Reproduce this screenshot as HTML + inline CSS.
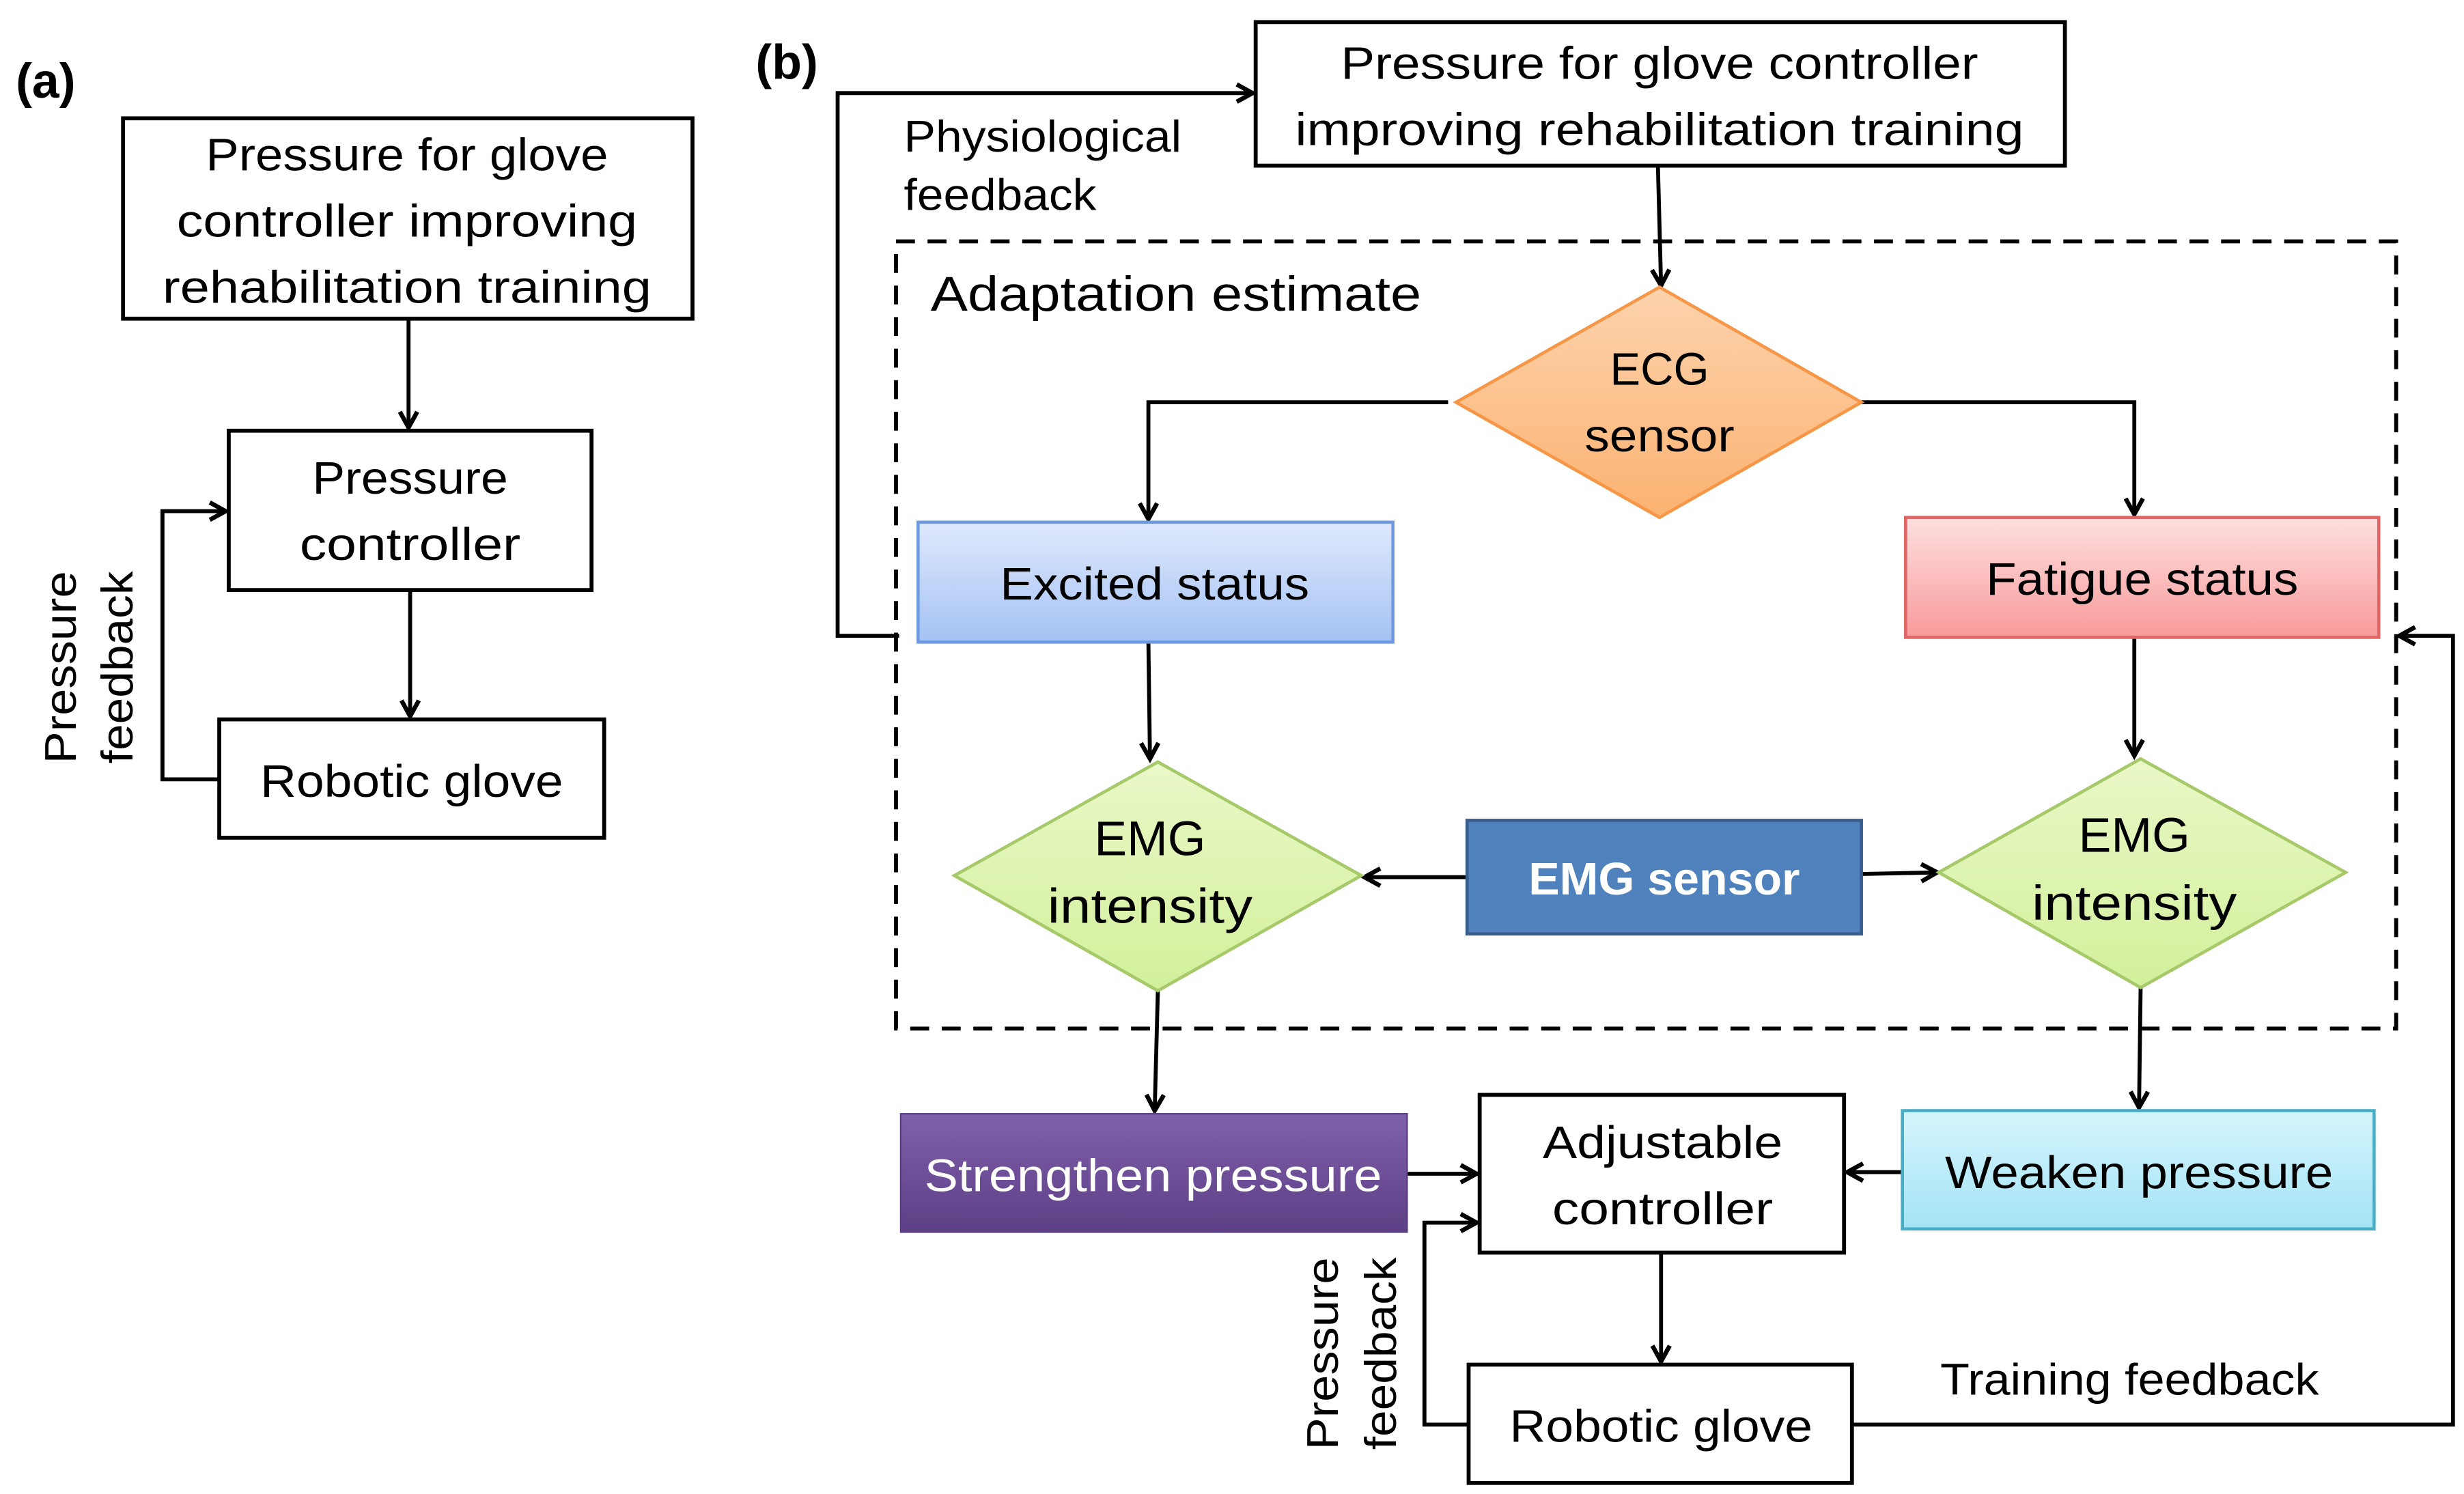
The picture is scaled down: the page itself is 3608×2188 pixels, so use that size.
<!DOCTYPE html>
<html><head><meta charset="utf-8"><style>html,body{margin:0;padding:0;background:#fff}svg{display:block}</style></head>
<body>
<svg width="3608" height="2188" viewBox="0 0 1562 947" preserveAspectRatio="none" xmlns="http://www.w3.org/2000/svg" font-family="Liberation Sans, sans-serif">
<defs>
<marker id="ar" markerWidth="14" markerHeight="14" refX="11" refY="7" orient="auto" markerUnits="userSpaceOnUse"><path d="M1,1.5 L11,7 L1,12.5" fill="none" stroke="#000" stroke-width="2.8"/></marker>
<linearGradient id="gO" x1="0" y1="0" x2="0" y2="1"><stop offset="0" stop-color="#fdd3ad"/><stop offset="1" stop-color="#fbb271"/></linearGradient>
<linearGradient id="gB" x1="0" y1="0" x2="0" y2="1"><stop offset="0" stop-color="#dfe9fc"/><stop offset="1" stop-color="#a4c2f4"/></linearGradient>
<linearGradient id="gR" x1="0" y1="0" x2="0" y2="1"><stop offset="0" stop-color="#fde0e0"/><stop offset="1" stop-color="#f99a9a"/></linearGradient>
<linearGradient id="gG" x1="0" y1="0" x2="0" y2="1"><stop offset="0" stop-color="#eaf8c8"/><stop offset="1" stop-color="#d2f09a"/></linearGradient>
<linearGradient id="gP" x1="0" y1="0" x2="0" y2="1"><stop offset="0" stop-color="#8060aa"/><stop offset="1" stop-color="#5d3f86"/></linearGradient>
<linearGradient id="gC" x1="0" y1="0" x2="0" y2="1"><stop offset="0" stop-color="#d6f5fc"/><stop offset="1" stop-color="#a3e3f6"/></linearGradient>
</defs>
<g stroke="#000" stroke-width="2.5" fill="none">
<rect x="78" y="75" width="361" height="127" fill="#fff"/>
<rect x="145" y="273" width="230" height="101" fill="#fff"/>
<rect x="139" y="456" width="244" height="75" fill="#fff"/>
<line x1="259" y1="202" x2="259" y2="271" marker-end="url(#ar)"/>
<line x1="260" y1="374" x2="260" y2="454" marker-end="url(#ar)"/>
<polyline points="139,494 103,494 103,324 143,324" marker-end="url(#ar)"/>
<rect x="796" y="14" width="513" height="91" fill="#fff"/>
<line x1="1051" y1="105" x2="1053" y2="181" marker-end="url(#ar)"/>
<polyline points="570,403 531,403 531,59 794,59" marker-end="url(#ar)"/>
<rect x="568" y="153" width="951" height="499" stroke-dasharray="12,8"/>
<polyline points="918,255 728,255 728,329" marker-end="url(#ar)"/>
<polyline points="1180,255 1353,255 1353,326" marker-end="url(#ar)"/>
<line x1="728" y1="407" x2="729" y2="481" marker-end="url(#ar)"/>
<line x1="1353" y1="404" x2="1353" y2="479" marker-end="url(#ar)"/>
<line x1="930" y1="556" x2="865" y2="556" marker-end="url(#ar)"/>
<line x1="1180" y1="554" x2="1228" y2="553" marker-end="url(#ar)"/>
<line x1="734" y1="628" x2="732" y2="704" marker-end="url(#ar)"/>
<line x1="1357" y1="626" x2="1356" y2="702" marker-end="url(#ar)"/>
<line x1="892" y1="744" x2="936" y2="744" marker-end="url(#ar)"/>
<line x1="1206" y1="743" x2="1171" y2="743" marker-end="url(#ar)"/>
<line x1="1053" y1="794" x2="1053" y2="863" marker-end="url(#ar)"/>
<polyline points="931,903 903,903 903,775 936,775" marker-end="url(#ar)"/>
<polyline points="1174,903 1555,903 1555,403 1521,403" marker-end="url(#ar)"/>
</g>
<polygon points="1052,182 1180,255 1052,328 923,255" fill="url(#gO)" stroke="#f79646" stroke-width="2"/>
<rect x="582" y="331" width="301" height="76" fill="url(#gB)" stroke="#6f9ae0" stroke-width="2"/>
<rect x="1208" y="328" width="300" height="76" fill="url(#gR)" stroke="#e06666" stroke-width="2"/>
<polygon points="734,483 863,555 734,628 605,555" fill="url(#gG)" stroke="#a6c96a" stroke-width="2"/>
<polygon points="1357,481 1487,553 1357,626 1229,553" fill="url(#gG)" stroke="#a6c96a" stroke-width="2"/>
<rect x="930" y="520" width="250" height="72" fill="#4f81bd" stroke="#385d8a" stroke-width="2"/>
<rect x="571" y="706" width="321" height="75" fill="url(#gP)" stroke="#5b3f80" stroke-width="1"/>
<rect x="938" y="694" width="231" height="100" fill="#fff" stroke="#000" stroke-width="2.5"/>
<rect x="1206" y="704" width="299" height="75" fill="url(#gC)" stroke="#4bacc6" stroke-width="2"/>
<rect x="931" y="865" width="243" height="75" fill="#fff" stroke="#000" stroke-width="2.5"/>
<g font-size="29" text-anchor="middle" fill="#000">
<text x="258" y="108" textLength="255" lengthAdjust="spacingAndGlyphs">Pressure for glove</text>
<text x="258" y="150" textLength="292" lengthAdjust="spacingAndGlyphs">controller improving</text>
<text x="258" y="192" textLength="310" lengthAdjust="spacingAndGlyphs">rehabilitation training</text>
<text x="260" y="313" textLength="124" lengthAdjust="spacingAndGlyphs">Pressure</text>
<text x="260" y="355" textLength="140" lengthAdjust="spacingAndGlyphs">controller</text>
<text x="261" y="505" textLength="192" lengthAdjust="spacingAndGlyphs">Robotic glove</text>
<text x="1052" y="50" textLength="404" lengthAdjust="spacingAndGlyphs">Pressure for glove controller</text>
<text x="1052" y="92" textLength="462" lengthAdjust="spacingAndGlyphs">improving rehabilitation training</text>
<text x="1052" y="244">ECG</text>
<text x="1052" y="286" textLength="95" lengthAdjust="spacingAndGlyphs">sensor</text>
<text x="732" y="380" textLength="196" lengthAdjust="spacingAndGlyphs">Excited status</text>
<text x="1358" y="377" textLength="198" lengthAdjust="spacingAndGlyphs">Fatigue status</text>
<text x="729" y="542" font-size="31">EMG</text>
<text x="729" y="585" font-size="31" textLength="130" lengthAdjust="spacingAndGlyphs">intensity</text>
<text x="1353" y="540" font-size="31">EMG</text>
<text x="1353" y="583" font-size="31" textLength="130" lengthAdjust="spacingAndGlyphs">intensity</text>
<text x="1055" y="567" fill="#fff" font-weight="bold" textLength="172" lengthAdjust="spacingAndGlyphs">EMG sensor</text>
<text x="731" y="755" fill="#fff" textLength="290" lengthAdjust="spacingAndGlyphs">Strengthen pressure</text>
<text x="1054" y="734" textLength="152" lengthAdjust="spacingAndGlyphs">Adjustable</text>
<text x="1054" y="776" textLength="140" lengthAdjust="spacingAndGlyphs">controller</text>
<text x="1356" y="753" textLength="246" lengthAdjust="spacingAndGlyphs">Weaken pressure</text>
<text x="1053" y="914" textLength="192" lengthAdjust="spacingAndGlyphs">Robotic glove</text>
</g>
<g font-size="28" fill="#000">
<text x="573" y="96" textLength="176" lengthAdjust="spacingAndGlyphs">Physiological</text>
<text x="573" y="133" textLength="122" lengthAdjust="spacingAndGlyphs">feedback</text>
<text x="590" y="197" font-size="31" textLength="311" lengthAdjust="spacingAndGlyphs">Adaptation estimate</text>
<text x="1230" y="884" textLength="240" lengthAdjust="spacingAndGlyphs">Training  feedback</text>
</g>
<text x="10" y="62" font-size="31" font-weight="bold">(a)</text>
<text x="479" y="50" font-size="31" font-weight="bold">(b)</text>
<g font-size="28" text-anchor="middle" fill="#000">
<text transform="translate(48,423) rotate(-90)" textLength="122" lengthAdjust="spacingAndGlyphs">Pressure</text>
<text transform="translate(84,423) rotate(-90)" textLength="122" lengthAdjust="spacingAndGlyphs">feedback</text>
<text transform="translate(848,858) rotate(-90)" textLength="122" lengthAdjust="spacingAndGlyphs">Pressure</text>
<text transform="translate(885,858) rotate(-90)" textLength="122" lengthAdjust="spacingAndGlyphs">feedback</text>
</g>
</svg>
</body></html>
